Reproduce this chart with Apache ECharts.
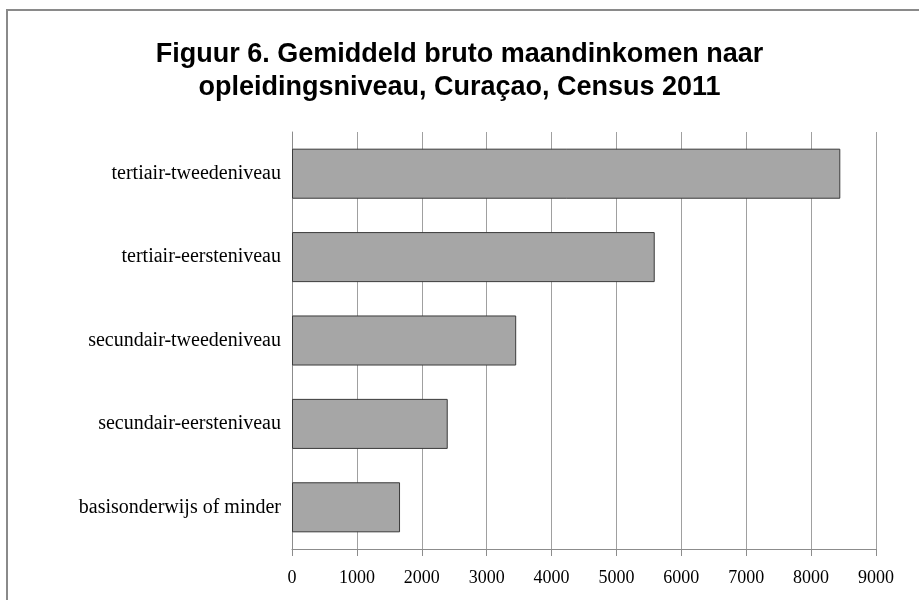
<!DOCTYPE html>
<html>
<head>
<meta charset="utf-8">
<script src="https://cdn.jsdelivr.net/npm/echarts@6/dist/echarts.min.js"></script>
<style>
  html, body { margin: 0; padding: 0; background: #fff; }
  #chart { width: 919px; height: 600px; }
</style>
</head>
<body>
<div id="chart"></div>
<script>
  // categories bottom-to-top, as ECharts draws a category y axis
  var categories = [
    'basisonderwijs of minder',
    'secundair-eersteniveau',
    'secundair-tweedeniveau',
    'tertiair-eersteniveau',
    'tertiair-tweedeniveau'
  ]
  var incomes = [1665, 2400, 3455, 5590, 8450]
  var xTicks = [0, 1000, 2000, 3000, 4000, 5000, 6000, 7000, 8000, 9000]

  var chart = echarts.init(document.getElementById('chart'))
  chart.setOption({
    animation: false,
    backgroundColor: '#fff',
    title: {
      text: 'Figuur 6. Gemiddeld bruto maandinkomen naar\nopleidingsniveau, Curaçao, Census 2011',
      left: 'center',
      top: 33,
      textStyle: {
        fontFamily: 'Liberation Sans',
        fontWeight: 'bold',
        fontSize: 27,
        lineHeight: 33,
        color: '#000'
      }
    },
    graphic: [{
      type: 'rect',
      silent: true,
      shape: { x: 7, y: 10, width: 1000, height: 700 },
      style: { fill: 'none', stroke: '#8a8a8a', lineWidth: 2 }
    }],
    grid: {
      left: 292,
      right: 43,
      top: 132,
      bottom: 51
    },
    xAxis: {
      type: 'value',
      min: xTicks[0],
      max: xTicks[xTicks.length - 1],
      interval: 1000,
      axisLine: { show: true, lineStyle: { color: '#8c8c8c', width: 1 } },
      axisTick: { show: true, length: 7, lineStyle: { color: '#8c8c8c' } },
      axisLabel: {
        fontFamily: 'Liberation Serif',
        fontSize: 18,
        color: '#000',
        margin: 20,
        formatter: function (v) { return String(v) }
      },
      splitLine: { show: true, lineStyle: { color: '#a0a0a0', width: 1 } }
    },
    yAxis: {
      type: 'category',
      data: categories,
      axisLine: { show: true, lineStyle: { color: '#8c8c8c', width: 1 } },
      axisTick: { show: false },
      axisLabel: {
        fontFamily: 'Liberation Serif',
        fontSize: 20,
        color: '#000',
        margin: 11
      }
    },
    series: [{
      type: 'bar',
      data: incomes,
      barCategoryGap: '40%',
      itemStyle: {
        color: '#a6a6a6',
        borderColor: '#3a3a3a',
        borderWidth: 1
      }
    }]
  })
</script>
</body>
</html>
